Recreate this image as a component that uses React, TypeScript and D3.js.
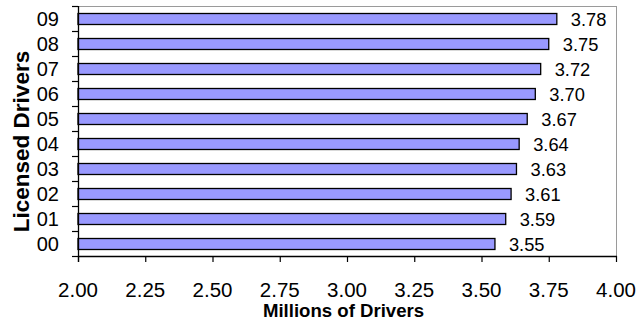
import React from "react";
import * as d3 from "d3";

// Licensed drivers per year (millions)
const years = ["00", "01", "02", "03", "04", "05", "06", "07", "08", "09"];
const drivers = [3.55, 3.59, 3.61, 3.63, 3.64, 3.67, 3.7, 3.72, 3.75, 3.78];
const xTicks = [2.0, 2.25, 2.5, 2.75, 3.0, 3.25, 3.5, 3.75, 4.0];

const W = 639;
const H = 322;
const M = { left: 78, right: 616, top: 6, bottom: 256 };
const FONT = "'Liberation Sans', Arial, sans-serif";

export default function App() {
  const x = d3.scaleLinear().domain([2, 4]).range([M.left, M.right]);
  // Top category at the top of the plot
  const y = d3
    .scaleBand<string>()
    .domain([...years].reverse())
    .range([M.top, M.bottom])
    .paddingInner(0)
    .paddingOuter(0);
  const bw = y.bandwidth();
  const barH = 11;
  const boundaries = d3.range(years.length + 1).map((i) => M.top + i * bw);

  return (
    <svg
      width={W}
      height={H}
      style={{ position: "absolute", left: 0, top: 0, background: "#fff" }}
      fontFamily={FONT}
    >
      {/* plot frame, top and right sides */}
      <line x1={M.left} x2={M.right} y1={M.top + 0.5} y2={M.top + 0.5} stroke="#9a9a9a" strokeWidth={1} />
      <line x1={M.right + 0.5} x2={M.right + 0.5} y1={M.top} y2={M.bottom} stroke="#9a9a9a" strokeWidth={1} />

      {/* bars */}
      {years.map((yr, i) => {
        const cy = (y(yr) as number) + bw / 2 + 0.5;
        return (
          <g key={yr}>
            <rect
              x={x(2)}
              y={cy - barH / 2}
              width={x(drivers[i]) - x(2)}
              height={barH}
              fill="#9999FF"
              stroke="#000"
              strokeWidth={1.3}
            />
            <text x={x(drivers[i]) + 14} y={cy} dy="0.36em" fontSize={18.3} fill="#000">
              {drivers[i].toFixed(2)}
            </text>
            <text x={59} y={cy} dy="0.36em" fontSize={20} textAnchor="end" fill="#000">
              {yr}
            </text>
          </g>
        );
      })}

      {/* y axis */}
      <line x1={M.left + 0.5} x2={M.left + 0.5} y1={M.top} y2={M.bottom + 6} stroke="#000" strokeWidth={1.3} />
      {boundaries.map((b, i) => (
        <line key={i} x1={M.left - 6} x2={M.left} y1={b + 0.5} y2={b + 0.5} stroke="#000" strokeWidth={1.2} />
      ))}

      {/* x axis */}
      <line x1={M.left} x2={M.right + 1} y1={M.bottom + 0.5} y2={M.bottom + 0.5} stroke="#000" strokeWidth={1.3} />
      {xTicks.map((t) => (
        <g key={t}>
          <line x1={x(t) + 0.5} x2={x(t) + 0.5} y1={M.bottom} y2={M.bottom + 6} stroke="#000" strokeWidth={1.2} />
          <text x={x(t)} y={296.5} fontSize={20.5} textAnchor="middle" fill="#000">
            {t.toFixed(2)}
          </text>
        </g>
      ))}

      <text x={343.5} y={317} fontSize={18.6} fontWeight="bold" textAnchor="middle" fill="#000">
        Millions of Drivers
      </text>
      <text
        transform={`translate(28.5, 141.5) rotate(-90)`}
        fontSize={22.5}
        fontWeight="bold"
        textAnchor="middle"
        fill="#000"
      >
        Licensed Drivers
      </text>
    </svg>
  );
}
